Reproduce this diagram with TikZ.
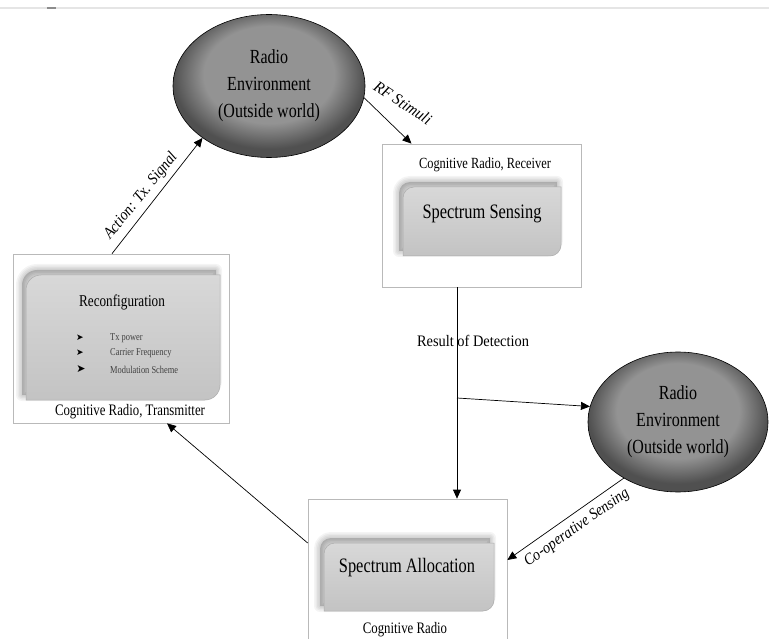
\documentclass[tikz,border=0pt]{standalone}
\usepackage{fontspec}
\setmainfont{Liberation Serif}
\newfontfamily\symf{DejaVu Sans}
\usetikzlibrary{shapes.geometric,arrows.meta,calc}
\definecolor{ellin}{HTML}{939393}
\definecolor{ellout}{HTML}{505050}
\definecolor{boxtop}{HTML}{D8D8D8}
\definecolor{boxbot}{HTML}{C3C3C3}
\pgfdeclareradialshading{ellshade}{\pgfpoint{0bp}{6bp}}{color(0bp)=(ellin);color(17bp)=(ellin);color(25bp)=(ellout);color(50bp)=(ellout)}
\newcommand\sqz[2][0.8]{\scalebox{#1}[1]{#2}}
\newcommand\rdpath[5]{(#1,#4) -- (#1,#2+#5) arc[start angle=180,end angle=270,radius=#5] -- (#3,#2) -- (#3,#4-#5) arc[start angle=0,end angle=90,radius=#5] -- cycle}
\newcommand\rdbox[5]{%
  \foreach \w in {12,9,6,3}{
    \draw[line width=\w pt, draw=black, opacity=0.045, line join=round] \rdpath{#1-4}{#2-5}{#3-4}{#4-5}{#5};
  }
  \fill[black, opacity=0.18] \rdpath{#1-4}{#2-5}{#3-4}{#4-5}{#5};
  \shade[top color=boxtop, bottom color=boxbot, draw=gray!65, line width=0.5pt] \rdpath{#1}{#2}{#3}{#4}{#5};
}
\tikzset{
  crenv/.style={ellipse, draw=black, line width=0.6pt, shading=ellshade, align=center, inner sep=0pt, font=\fontsize{20}{27}\selectfont},
  crbox/.style={draw=gray!55, line width=0.7pt, rectangle, inner sep=0pt},
  crarr/.style={-{Triangle[length=9pt,width=8pt]}, line width=0.7pt, black},
  crlbl/.style={font=\itshape\fontsize{16}{18}\selectfont, inner sep=0pt},
  crbig/.style={font=\fontsize{20.5}{24}\selectfont, inner sep=0pt},
  crcap/.style={font=\fontsize{16}{18}\selectfont, inner sep=0pt},
  critem/.style={font=\fontsize{10.5}{12}\selectfont, text=black!75, anchor=west, inner sep=0pt},
  crbul/.style={font=\symf\fontsize{9}{9}\selectfont, inner sep=0pt}
}
\begin{document}
\begin{tikzpicture}[x=1pt,y=-1pt]
\useasboundingbox (0,0) rectangle (769,639);
\fill[white] (0,0) rectangle (769,639);
% top border line
\draw[black!10, line width=1.5pt] (0,8) -- (769,8);
\draw[black!45, line width=1.5pt] (47,8) -- (56,8);

% outer boxes
\node[crbox, minimum width=199pt, minimum height=143pt] (recv) at (481.5,215.5) {};
\node[crbox, minimum width=216pt, minimum height=169pt] (trans) at (121,338.5) {};
\node[crbox, minimum width=199pt, minimum height=146pt] (alloc) at (407.5,572) {};

% inner boxes
\rdbox{403}{187}{561}{256}{11}
\rdbox{26}{275}{220}{400}{15}
\rdbox{324}{543}{494}{611}{11}

% ellipses
\node[crenv, minimum width=192pt, minimum height=143pt] (ell1) at (269,86) {\sqz{Radio}\\\sqz{Environment}\\\sqz{(Outside world)}};
\node[crenv, minimum width=180pt, minimum height=140pt] (ell2) at (678,422) {\sqz{Radio}\\\sqz{Environment}\\\sqz{(Outside world)}};

% texts
\node[crcap, font=\fontsize{15.5}{18}\selectfont] (rcvlbl) at (485,165) {\sqz{Cognitive Radio, Receiver}};
\node[crbig] (sens) at (482,214) {\sqz{Spectrum Sensing}};
\node[crcap, font=\fontsize{16.5}{18}\selectfont] (reconf) at (122,302) {\sqz{Reconfiguration}};
\node[crbul] (b1) at (80,338) {➤};
\node[crbul] (b2) at (80,353) {➤};
\node[crbul, font=\symf\fontsize{11}{11}\selectfont] (b3) at (81,369) {➤};
\node[critem] (i1) at (110,338) {\sqz{Tx power}};
\node[critem] (i2) at (110,353) {\sqz{Carrier Frequency}};
\node[critem] (i3) at (110,370) {\sqz{Modulation Scheme}};
\node[crcap] (trlbl) at (130,412) {\sqz{Cognitive Radio, Transmitter}};
\node[crbig] (salloc) at (407,568) {\sqz{Spectrum Allocation}};
\node[crcap] (allbl) at (405,630) {\sqz{Cognitive Radio}};

% connectors
\coordinate (br) at (457,398);
\draw[crarr] (recv.south -| br) -- (alloc.north -| br);
\node[font=\fontsize{16}{18}\selectfont, inner sep=0pt] (rod) at (473,341) {\sqz[0.9]{Result of Detection}};
\draw[crarr] (br) -- (ell2.170);
\draw[crarr] (ell2.226) -- ([yshift=12pt]alloc.east);
\node[crlbl, rotate=35] (coop) at (577,528) {\sqz[0.9]{Co-operative Sensing}};
\draw[crarr] ([yshift=29pt]alloc.west) -- ([xshift=46pt]trans.south);
\draw[crarr] ([xshift=-9pt]trans.north) -- (ell1.218);
\node[crlbl, rotate=51] (act) at (141,196) {\sqz[0.9]{Action: Tx. Signal}};
\draw[crarr] (ell1.-7) -- ([xshift=-70pt]recv.north);
\node[crlbl, rotate=-33] (rfs) at (403,103) {\sqz[0.95]{RF Stimuli}};
\end{tikzpicture}
\end{document}
